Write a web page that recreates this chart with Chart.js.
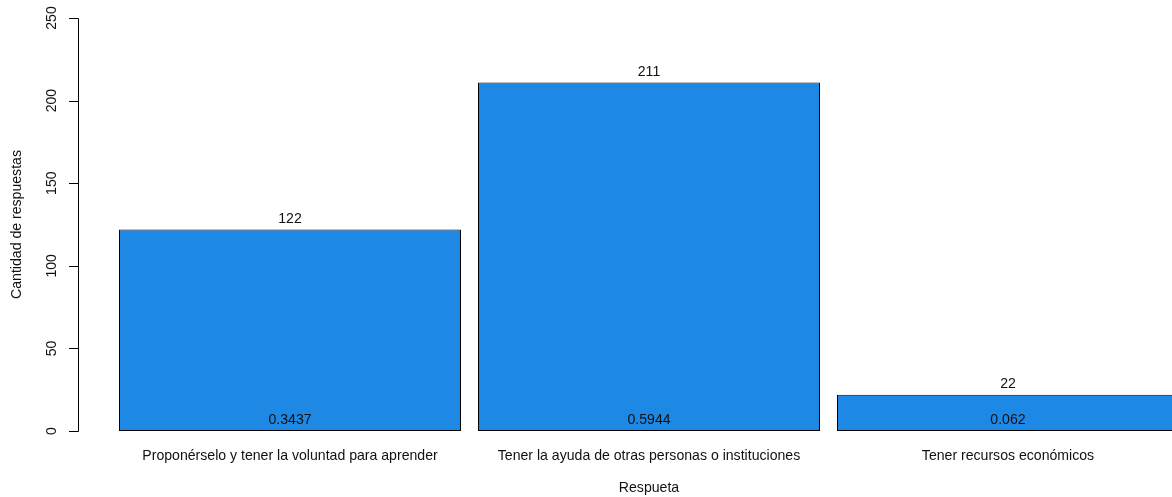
<!DOCTYPE html>
<html>
<head>
<meta charset="utf-8">
<script src="https://cdn.jsdelivr.net/npm/chart.js@4/dist/chart.umd.min.js"></script>
<style>
  html, body { margin: 0; padding: 0; background: #fff; overflow: hidden; }
  #wrap { width: 1172px; height: 497px; overflow: hidden; }
  #wrap div { width: 1200px; height: 497px; }
</style>
</head>
<body>
<div id="wrap"><div><canvas id="chart" width="1200" height="497"></canvas></div></div>
<script>
const categorias = [
  "Proponérselo y tener la voluntad para aprender",
  "Tener la ayuda de otras personas o instituciones",
  "Tener recursos económicos"
];
const respuestas = [122, 211, 22];
const proporciones = ["0.3437", "0.5944", "0.062"];
const ticksY = [0, 50, 100, 150, 200, 250];

const FONT = "14.1px 'Liberation Sans', Arial, sans-serif";
const TXT = "#111";

// ejes y etiquetas dibujados a mano, estilo barplot de R
const ejesR = {
  id: "ejesR",
  afterDatasetsDraw(chart) {
    const ctx = chart.ctx;
    const x = chart.scales.x, y = chart.scales.y;
    const axX = 78;
    ctx.save();
    ctx.strokeStyle = "#000";
    ctx.lineWidth = 1;
    ctx.beginPath();
    ctx.moveTo(axX + 0.5, Math.round(y.getPixelForValue(ticksY[0])) + 0.5);
    ctx.lineTo(axX + 0.5, Math.round(y.getPixelForValue(ticksY[ticksY.length - 1])) + 0.5);
    ticksY.forEach(t => {
      const py = Math.round(y.getPixelForValue(t)) + 0.5;
      ctx.moveTo(69, py);
      ctx.lineTo(axX + 0.5, py);
    });
    ctx.stroke();

    ctx.fillStyle = TXT;
    ctx.font = FONT;
    ctx.textAlign = "center";
    ctx.textBaseline = "middle";
    ticksY.forEach(t => {
      ctx.save();
      ctx.translate(52, y.getPixelForValue(t));
      ctx.rotate(-Math.PI / 2);
      ctx.fillText(String(t), 0, 0);
      ctx.restore();
    });

    ctx.save();
    ctx.translate(17.5, (y.top + y.bottom) / 2);
    ctx.rotate(-Math.PI / 2);
    ctx.fillText("Cantidad de respuestas", 0, 0);
    ctx.restore();

    categorias.forEach((c, i) => {
      const px = x.getPixelForValue(i);
      ctx.fillText(c, px, 456);
      ctx.fillText(String(respuestas[i]), px, y.getPixelForValue(respuestas[i]) - 10.5);
      ctx.fillText(proporciones[i], px, y.getPixelForValue(0) - 11);
    });
    ctx.fillText("Respueta", x.getPixelForValue(1), 488.5);
    ctx.restore();
  }
};

new Chart(document.getElementById("chart").getContext("2d"), {
  type: "bar",
  data: {
    labels: categorias,
    datasets: [{
      data: respuestas,
      backgroundColor: "#1E88E5",
      borderColor: "#000",
      borderWidth: 1,
      borderSkipped: false,
      barPercentage: 342 / 359,
      categoryPercentage: 1
    }]
  },
  options: {
    responsive: false,
    animation: false,
    layout: { padding: { left: 110.5, right: 12.5, top: 18, bottom: 66 } },
    plugins: { legend: { display: false }, tooltip: { enabled: false } },
    scales: {
      x: { display: false },
      y: { display: false, min: 0, max: 250 }
    }
  },
  plugins: [ejesR]
});
</script>
</body>
</html>
